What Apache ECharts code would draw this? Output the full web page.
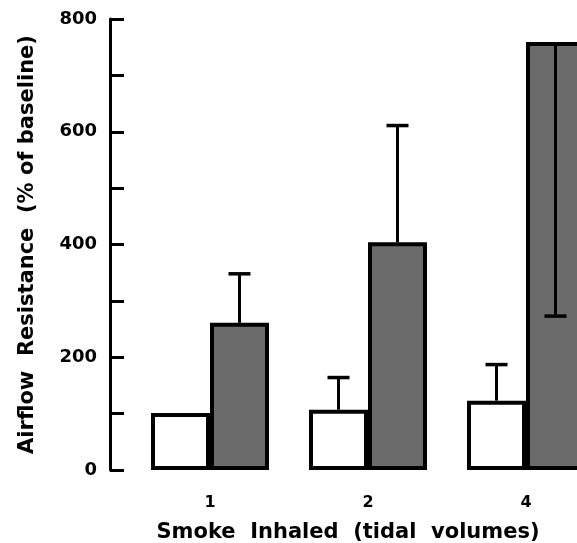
<!DOCTYPE html>
<html>
<head>
<meta charset="utf-8">
<script src="https://cdn.jsdelivr.net/npm/echarts@6/dist/echarts.min.js"></script>
<style>html,body{margin:0;padding:0;background:#fff}#c{width:577px;height:543px}</style>
</head>
<body>
<div id="c"></div>
<script>
var categories = ['1', '2', '4'];
var controlMean = [101, 107, 123];
var controlErrEnd = [null, 164, 187];
var smokeMean = [261, 404, 759];
var smokeErrEnd = [348, 611, 273];
var yTickLabels = ['0', '200', '400', '600', '800'];

var FONT = 'DejaVu Sans';
var BAR_W = 59;

function errSeries(means, ends, side) {
  var data = [];
  for (var i = 0; i < categories.length; i++) {
    if (ends[i] != null) data.push([i, means[i], ends[i]]);
  }
  return {
    type: 'custom',
    z: 5,
    data: data,
    encode: { x: 0, y: [1, 2] },
    renderItem: function (params, api) {
      var i = api.value(0);
      var p0 = api.coord([i, api.value(1)]);
      var p1 = api.coord([i, api.value(2)]);
      var x = p0[0] + side * BAR_W / 2;
      var half = 11;
      return {
        type: 'group',
        children: [
          { type: 'line', shape: { x1: x, y1: p0[1], x2: x, y2: p1[1] }, style: { stroke: '#000', lineWidth: 3 } },
          { type: 'line', shape: { x1: x - half, y1: p1[1], x2: x + half, y2: p1[1] }, style: { stroke: '#000', lineWidth: 3.5 } }
        ]
      };
    }
  };
}

var chart = echarts.init(document.getElementById('c'));
chart.setOption({
  animation: false,
  backgroundColor: '#fff',
  grid: { left: 131, top: 19, width: 474, bottom: 73, containLabel: false, outerBoundsMode: 'none' },
  xAxis: {
    type: 'category',
    data: categories,
    axisLine: { show: false },
    axisTick: { show: false },
    axisLabel: { margin: 25, fontFamily: FONT, fontWeight: 'bold', fontSize: 16, color: '#000' },
    name: 'Smoke  Inhaled  (tidal  volumes)',
    nameLocation: 'middle',
    nameGap: 52,
    nameTextStyle: { fontFamily: FONT, fontWeight: 'bold', fontSize: 21, color: '#000', padding: [0, 40, 0, 0] }
  },
  yAxis: {
    type: 'value',
    min: 0,
    max: 800,
    interval: 100,
    offset: 21,
    splitLine: { show: false },
    axisLine: { show: true, lineStyle: { color: '#000', width: 3 } },
    axisTick: { show: true, inside: true, length: 14, lineStyle: { color: '#000', width: 3 } },
    axisLabel: {
      margin: 13, fontFamily: FONT, fontWeight: 'bold', fontSize: 18, color: '#000',
      formatter: function (v) { var s = String(v); return yTickLabels.indexOf(s) >= 0 ? s : ''; }
    },
    name: 'Airflow  Resistance  (% of baseline)',
    nameLocation: 'middle',
    nameRotate: 90,
    nameGap: 72,
    nameTextStyle: { fontFamily: FONT, fontWeight: 'bold', fontSize: 21, color: '#000' }
  },
  series: [
    {
      type: 'bar', data: controlMean, barWidth: BAR_W, barGap: '0%',
      itemStyle: { color: '#fff', borderColor: '#000', borderWidth: 4 }
    },
    {
      type: 'bar', data: smokeMean, barWidth: BAR_W, barGap: '0%',
      itemStyle: { color: '#6b6b6b', borderColor: '#000', borderWidth: 4 }
    },
    errSeries(controlMean, controlErrEnd, -1),
    errSeries(smokeMean, smokeErrEnd, 1)
  ]
});
</script>
</body>
</html>
